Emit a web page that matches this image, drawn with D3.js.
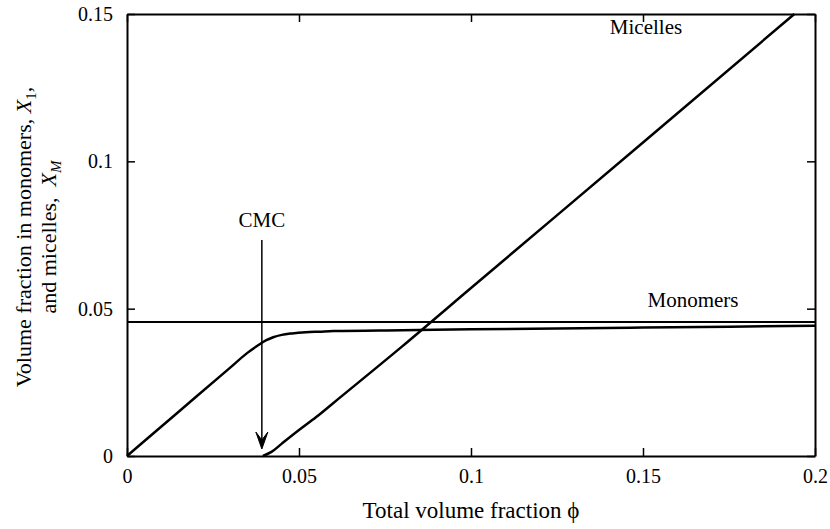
<!DOCTYPE html>
<html>
<head>
<meta charset="utf-8">
<script src="https://cdn.jsdelivr.net/npm/d3@7"></script>
<style>
  html, body { margin: 0; padding: 0; background: #fff; }
  svg { display: block; }
  svg text { font-family: "Liberation Serif", "Times New Roman", "DejaVu Serif", serif; fill: #000; }
</style>
</head>
<body>
<svg id="chart" width="830" height="529"></svg>
<script>
// Total volume fraction (x) and monomer volume fraction X1
const monomerPhi = [0, 0.01, 0.02, 0.03, 0.035, 0.038, 0.0405, 0.0425, 0.045, 0.048, 0.052, 0.056, 0.06, 0.08, 0.1, 0.15, 0.2];
const monomerX1  = [0, 0.01, 0.02, 0.03, 0.035, 0.0375, 0.0393, 0.0403, 0.0411, 0.0416, 0.042, 0.0422, 0.0424, 0.0427, 0.043, 0.0436, 0.0442];

// Micelle volume fraction XM
const micellePhi = [0.0395, 0.042, 0.045, 0.05, 0.055, 0.06, 0.08, 0.1, 0.15, 0.194];
const micelleXM  = [0, 0.0014, 0.0042, 0.0088, 0.0132, 0.018, 0.0372, 0.057, 0.1064, 0.15];

// Saturation level of monomers (horizontal reference line)
const monomerLimit = 0.0455;

// Critical micelle concentration marker
const cmcPhi = 0.0392;

const xTicks = [0, 0.05, 0.1, 0.15, 0.2];
const yTicks = [0, 0.05, 0.1, 0.15];
const xTickLabels = ["0", "0.05", "0.1", "0.15", "0.2"];
const yTickLabels = ["0", "0.05", "0.1", "0.15"];

const svg = d3.select("#chart");
const margin = { left: 127, right: 15, top: 14, bottom: 73 };
const W = 830, H = 529;

const x = d3.scaleLinear().domain([0, 0.2]).range([margin.left, W - margin.right]);
const y = d3.scaleLinear().domain([0, 0.15]).range([H - margin.bottom, margin.top]);

const tickLen = 8;
const tickFont = 20, labelFont = 21, titleFont = 22;

// Axes: box with inward ticks on all four sides
const axisBottom = d3.axisBottom(x).tickValues(xTicks).tickSizeInner(-tickLen).tickSizeOuter(0)
  .tickFormat((d, i) => xTickLabels[i]).tickPadding(13);
const axisTop = d3.axisTop(x).tickValues(xTicks).tickSizeInner(-tickLen).tickSizeOuter(0).tickFormat("");
const axisLeft = d3.axisLeft(y).tickValues(yTicks).tickSizeInner(-tickLen).tickSizeOuter(0)
  .tickFormat((d, i) => yTickLabels[i]).tickPadding(14);
const axisRight = d3.axisRight(y).tickValues(yTicks).tickSizeInner(-tickLen).tickSizeOuter(0).tickFormat("");

function styleAxis(g) {
  g.attr("font-family", null);
  g.select(".domain").attr("stroke", "#000").attr("stroke-width", 2);
  g.selectAll(".tick line").attr("stroke", "#000").attr("stroke-width", 1.5);
  g.selectAll(".tick text").style("font-size", tickFont + "px");
}

svg.append("g").attr("transform", `translate(0,${y(0)})`).call(axisBottom).call(styleAxis);
svg.append("g").attr("transform", `translate(0,${y(0.15)})`).call(axisTop).call(styleAxis);
svg.append("g").attr("transform", `translate(${x(0)},0)`).call(axisLeft).call(styleAxis);
svg.append("g").attr("transform", `translate(${x(0.2)},0)`).call(axisRight).call(styleAxis);

// Monomer saturation line
svg.append("line")
  .attr("x1", x(0)).attr("x2", x(0.2))
  .attr("y1", y(monomerLimit)).attr("y2", y(monomerLimit))
  .attr("stroke", "#000").attr("stroke-width", 2);

const line = d3.line().x(d => x(d[0])).y(d => y(d[1])).curve(d3.curveMonotoneX);

// Monomer curve
svg.append("path")
  .datum(monomerPhi.map((p, i) => [p, monomerX1[i]]))
  .attr("d", line).attr("fill", "none").attr("stroke", "#000").attr("stroke-width", 2.5);

// Micelle curve
svg.append("path")
  .datum(micellePhi.map((p, i) => [p, micelleXM[i]]))
  .attr("d", line).attr("fill", "none").attr("stroke", "#000").attr("stroke-width", 2.5);

// CMC arrow
const arrowTop = 240, arrowTip = y(0) - 7;
svg.append("line")
  .attr("x1", x(cmcPhi)).attr("x2", x(cmcPhi))
  .attr("y1", arrowTop).attr("y2", arrowTip - 2)
  .attr("stroke", "#000").attr("stroke-width", 1.5);
svg.append("path")
  .attr("d", `M${x(cmcPhi) - 6},${arrowTip - 17} L${x(cmcPhi)},${arrowTip} L${x(cmcPhi) + 6},${arrowTip - 17} L${x(cmcPhi)},${arrowTip - 9} Z`)
  .attr("fill", "#000").attr("stroke", "#000").attr("stroke-width", 1);

svg.append("text").attr("x", x(cmcPhi)).attr("y", 227)
  .attr("text-anchor", "middle").style("font-size", labelFont + "px").text("CMC");

// Series labels
svg.append("text").attr("x", 646).attr("y", 34)
  .attr("text-anchor", "middle").style("font-size", labelFont + "px").text("Micelles");
svg.append("text").attr("x", 693).attr("y", 307)
  .attr("text-anchor", "middle").style("font-size", labelFont + "px").text("Monomers");

// Axis titles
svg.append("text").attr("x", 471).attr("y", 518)
  .attr("text-anchor", "middle").style("font-size", "23px").text("Total volume fraction \u03d5");

const yTitle1 = svg.append("text")
  .attr("transform", "translate(31,237) rotate(-90)")
  .attr("text-anchor", "middle").style("font-size", titleFont + "px");
yTitle1.append("tspan").text("Volume fraction in monomers, ");
yTitle1.append("tspan").style("font-style", "italic").text("X");
yTitle1.append("tspan").attr("dy", 5).style("font-size", "15px").text("1");
yTitle1.append("tspan").attr("dy", -5).text(",");

const yTitle2 = svg.append("text")
  .attr("transform", "translate(56,237) rotate(-90)")
  .attr("text-anchor", "middle").style("font-size", titleFont + "px");
yTitle2.append("tspan").text("and micelles,\u00a0 ");
yTitle2.append("tspan").style("font-style", "italic").text("X");
yTitle2.append("tspan").attr("dy", 5).style("font-size", "15px").style("font-style", "italic").text("M");
</script>
</body>
</html>
